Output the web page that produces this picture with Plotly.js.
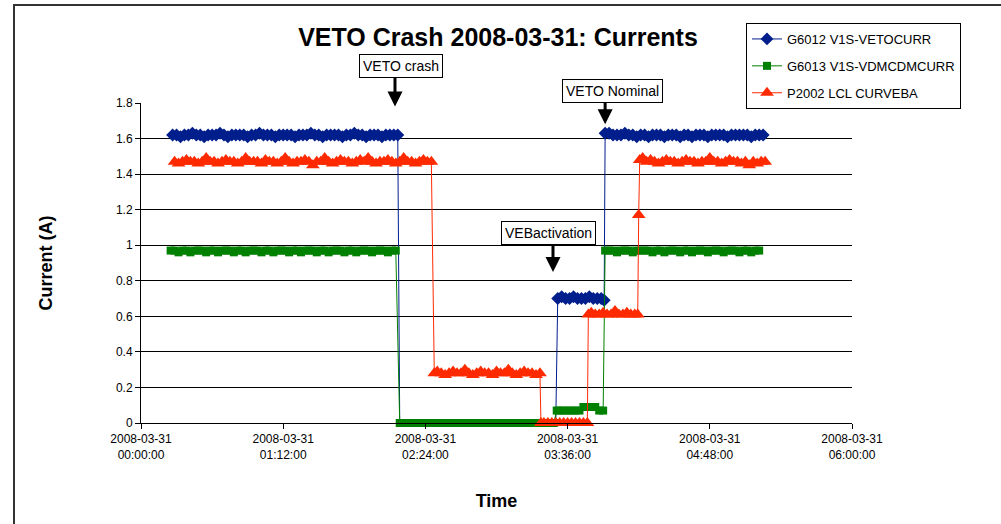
<!DOCTYPE html>
<html>
<head>
<meta charset="utf-8">
<script src="https://cdn.plot.ly/plotly-3.0.1.min.js"></script>
<style>html,body{margin:0;padding:0;background:#fff;}#chart{width:1001px;height:524px;}</style>
</head>
<body>
<div id="chart"></div>
<script>
// ---- data (minutes after 2008-03-31 00:00:00, current in A) ----
const seriesNames = ["G6012 V1S-VETOCURR", "G6013 V1S-VDMCDMCURR", "P2002 LCL CURVEBA"];

const blueMin = [16,18,20,22,24,26,28,30,32,34,36,38,40,42,44,46,48,50,52,54,56,58,60,62,64,66,68,70,72,74,76,78,80,82,84,86,88,90,92,94,96,98,100,102,104,106,108,110,112,114,116,118,120,122,124,126,128,130,
  131,210,
  211,213,215,217,219,221,223,225,227,229,231,233,234.5,
  235,237,239,241,243,245,247,249,251,253,255,257,259,261,263,265,267,269,271,273,275,277,279,281,283,285,287,289,291,293,295,297,299,301,303,305,307,309,311,313,315];
const blueVal = [1.62,1.62,1.61,1.62,1.62,1.63,1.62,1.62,1.61,1.62,
  1.62,1.62,1.63,1.62,1.61,1.62,1.62,1.62,1.62,1.61,
  1.62,1.62,1.63,1.62,1.62,1.62,1.61,1.62,1.62,1.62,
  1.62,1.61,1.62,1.62,1.62,1.63,1.62,1.62,1.61,1.62,
  1.62,1.62,1.62,1.61,1.62,1.62,1.63,1.62,1.62,1.61,
  1.62,1.62,1.62,1.61,1.62,1.62,1.62,1.62,
  0,0,
  0.70,0.71,0.70,0.70,0.71,0.70,0.70,0.70,0.71,0.70,0.70,0.70,0.69,
  1.63,1.63,1.62,1.62,1.62,1.63,1.62,1.62,1.61,1.62,
  1.62,1.61,1.62,1.62,1.62,1.61,1.62,1.62,1.62,1.61,
  1.62,1.62,1.61,1.62,1.62,1.62,1.61,1.62,1.62,1.62,
  1.62,1.61,1.62,1.62,1.62,1.62,1.62,1.61,1.62,1.62,1.62];

const greenMin = [15,17,19,21,23,25,27,29,31,33,35,37,39,41,43,45,47,49,51,53,55,57,59,61,63,65,67,69,71,73,75,77,79,81,83,85,87,89,91,93,95,97,99,101,103,105,107,109,111,113,115,117,119,121,123,125,127,129,
  131,133,135,137,139,141,143,145,147,149,151,153,155,157,159,161,163,165,167,169,171,173,175,177,179,181,183,185,187,189,191,193,195,197,199,201,203,205,207,209,
  210.5,212,214,216,218,220,222,224,226,228,230,232,234,
  235,237,239,241,243,245,247,249,251,253,255,257,259,261,263,265,267,269,271,273,275,277,279,281,283,285,287,289,291,293,295,297,299,301,303,305,307,309,311,313];
const greenVal = [0.97,0.97,0.96,0.97,0.97,0.96,0.97,0.97,0.97,0.96,
  0.97,0.97,0.96,0.97,0.97,0.97,0.96,0.97,0.97,0.96,
  0.97,0.97,0.97,0.96,0.97,0.97,0.96,0.97,0.97,0.97,
  0.96,0.97,0.97,0.96,0.97,0.97,0.97,0.96,0.97,0.97,
  0.96,0.97,0.97,0.97,0.96,0.97,0.97,0.96,0.97,0.97,
  0.97,0.96,0.97,0.97,0.97,0.96,0.97,0.97,
  0,0,0,0,0,0,0,0,0,0,0,0,0,0,0,0,0,0,0,0,
  0,0,0,0,0,0,0,0,0,0,0,0,0,0,0,0,0,0,0,0,
  0.07,0.07,0.07,0.07,0.07,0.07,0.07,0.09,0.09,0.09,0.09,0.07,0.07,
  0.97,0.97,0.97,0.96,0.97,0.97,0.97,0.96,0.97,0.97,
  0.97,0.97,0.96,0.97,0.97,0.96,0.97,0.97,0.97,0.96,
  0.97,0.97,0.96,0.97,0.97,0.97,0.96,0.97,0.97,0.97,
  0.96,0.97,0.97,0.97,0.96,0.97,0.97,0.96,0.97,0.97];

const redMin = [17,19,21,23,25,27,29,31,33,35,37,39,41,43,45,47,49,51,53,55,57,59,61,63,65,67,69,71,73,75,77,79,81,83,85,87,89,91,93,95,97,99,101,103,105,107,109,111,113,115,117,119,121,123,125,127,129,131,133,135,137,139,141,143,145,147,
  148.5,150,152,154,156,158,160,162,164,166,168,170,172,174,176,178,180,182,184,186,188,190,192,194,196,198,200,202,
  202.5,204,206,208,210,212,214,216,218,220,222,224,226,
  226.5,228,230,232,234,236,238,240,242,244,246,248,250,251.5,
  252,
  252.5,254,256,258,260,262,264,266,268,270,272,274,276,278,280,282,284,286,288,290,292,294,296,298,300,302,304,306,308,310,312,314,316];
const redVal = [1.47,1.46,1.47,1.48,1.47,1.47,1.46,1.47,1.49,1.47,
  1.47,1.46,1.47,1.48,1.47,1.47,1.46,1.47,1.49,1.47,
  1.47,1.47,1.46,1.48,1.47,1.47,1.46,1.47,1.49,1.47,
  1.46,1.47,1.47,1.48,1.47,1.45,1.47,1.47,1.49,1.47,
  1.46,1.47,1.48,1.47,1.47,1.46,1.47,1.48,1.47,1.49,
  1.47,1.46,1.47,1.47,1.48,1.47,1.46,1.47,1.49,1.47,
  1.47,1.46,1.47,1.48,1.47,1.47,
  0.28,0.29,0.28,0.27,0.28,0.29,0.28,0.28,0.30,0.28,
  0.27,0.28,0.29,0.28,0.28,0.27,0.29,0.28,0.28,0.30,
  0.28,0.27,0.28,0.29,0.28,0.28,0.27,0.28,
  0,0,0,0,0,0,0,0,0,0,0,0,0,
  0.61,0.62,0.61,0.61,0.62,0.61,0.61,0.63,0.61,0.61,0.62,0.61,0.61,0.61,
  1.17,
  1.48,1.49,1.47,1.48,1.47,1.46,1.47,1.48,1.47,1.47,
  1.46,1.47,1.48,1.47,1.47,1.46,1.47,1.47,1.49,1.47,
  1.47,1.46,1.47,1.48,1.47,1.47,1.46,1.47,1.45,1.47,
  1.46,1.47,1.47];

const yTickVals = [0,0.2,0.4,0.6,0.8,1,1.2,1.4,1.6,1.8];
const yTickText = ["0","0.2","0.4","0.6","0.8","1","1.2","1.4","1.6","1.8"];
const xTickMin = [0,72,144,216,288,360];
const xTickText = ["2008-03-31<br>00:00:00","2008-03-31<br>01:12:00","2008-03-31<br>02:24:00","2008-03-31<br>03:36:00","2008-03-31<br>04:48:00","2008-03-31<br>06:00:00"];

// callouts: label, arrow tip (minutes, A)
const calloutText = ["VETO crash", "VETO Nominal", "VEBactivation"];
const calloutTipMin = [128.6, 235, 208.6];
const calloutTipVal = [1.78, 1.68, 0.85];

// ---- helpers ----
function toDate(m) {
  const s = Math.round(m * 60);
  const hh = String(Math.floor(s / 3600)).padStart(2, "0");
  const mm = String(Math.floor((s % 3600) / 60)).padStart(2, "0");
  const ss = String(s % 60).padStart(2, "0");
  return "2008-03-31 " + hh + ":" + mm + ":" + ss;
}

const FONT = "Arial, 'Liberation Sans', sans-serif";
const colors = ["#001E8C", "#008000", "#FF2A00"];
const symbols = ["diamond", "square", "triangle-up"];
const sizes = [10, 8, 12];
const xs = [blueMin, greenMin, redMin];
const ys = [blueVal, greenVal, redVal];

const traces = xs.map((xm, i) => ({
  type: "scatter",
  mode: "lines+markers",
  name: seriesNames[i],
  legendgroup: "g" + i,
  x: xm.map(toDate),
  y: ys[i],
  line: {color: colors[i], width: 1},
  // blue points resting at zero are hidden beneath the green series in the original
  marker: {color: colors[i], symbol: symbols[i], opacity: 1,
           size: i === 0 ? ys[i].map(v => v === 0 ? 0 : sizes[i]) : sizes[i], line: {width: 0}},
  cliponaxis: false
}));

const boxPos = [[401, 66], [612, 91], [548, 233]]; // pixel centres of text boxes
const arrowLen = [30, 25, 29];
const L = 141, R = 852, T = 103, B = 423;
const annotations = [];
calloutText.forEach((t, i) => {
  annotations.push({
    x: toDate(calloutTipMin[i]), y: calloutTipVal[i], xref: "x", yref: "y",
    text: "", showarrow: true, ax: 0, ay: -arrowLen[i],
    arrowhead: 2, arrowsize: 1, arrowwidth: 3, arrowcolor: "#000"
  });
  annotations.push({
    x: (boxPos[i][0] - L) / (R - L), y: (B - boxPos[i][1]) / (B - T),
    xref: "paper", yref: "paper", xanchor: "center", yanchor: "middle",
    text: t, showarrow: false, bgcolor: "#fff", bordercolor: "#000", borderwidth: 1, borderpad: 3,
    font: {family: FONT, size: 14, color: "#000"}
  });
});

const layout = {
  width: 1001, height: 524,
  margin: {l: L, r: 1001 - R, t: T, b: 524 - B, pad: 0},
  paper_bgcolor: "#fff", plot_bgcolor: "#fff",
  font: {family: FONT, size: 12, color: "#000"},
  title: {text: "VETO Crash 2008-03-31: Currents", x: 0.4975, xref: "container", xanchor: "center",
          y: 1 - 37 / 524, yref: "container", yanchor: "middle",
          font: {family: FONT, size: 25, weight: "bold", color: "#000"}},
  xaxis: {
    type: "date", range: [toDate(0), toDate(360)],
    tickmode: "array", tickvals: xTickMin.map(toDate), ticktext: xTickText,
    showgrid: false, zeroline: false, showline: true, linecolor: "#000", linewidth: 1,
    ticks: "outside", ticklen: 5, tickcolor: "#000",
    tickfont: {family: FONT, size: 12, color: "#000"},
    title: {text: "Time", font: {family: FONT, size: 18, weight: "bold", color: "#000"}, standoff: 33}
  },
  yaxis: {
    range: [0, 1.8], tickmode: "array", tickvals: yTickVals, ticktext: yTickText,
    showgrid: true, gridcolor: "#000", gridwidth: 1, zeroline: false,
    showline: true, linecolor: "#000", linewidth: 1,
    ticks: "outside", ticklen: 5, tickcolor: "#000",
    tickfont: {family: FONT, size: 12, color: "#000"},
    title: {text: "Current (A)", font: {family: FONT, size: 18, weight: "bold", color: "#000"}, standoff: 58}
  },
  showlegend: true,
  legend: {
    x: (746 - L) / (R - L), y: (B - 23) / (B - T), xanchor: "left", yanchor: "top",
    bgcolor: "#fff", bordercolor: "#000", borderwidth: 1,
    traceorder: "grouped", tracegroupgap: 7,
    font: {family: FONT, size: 13, color: "#000"}
  },
  annotations: annotations,
  shapes: [{
    type: "rect", xref: "paper", yref: "paper",
    x0: (14 - L) / (R - L), x1: (1010 - L) / (R - L),
    y0: (B - 540) / (B - T), y1: (B - 5) / (B - T),
    line: {color: "#333", width: 2}, fillcolor: "rgba(0,0,0,0)", layer: "below"
  }]
};

Plotly.newPlot("chart", traces, layout, {displayModeBar: false, staticPlot: true});
</script>
</body>
</html>
